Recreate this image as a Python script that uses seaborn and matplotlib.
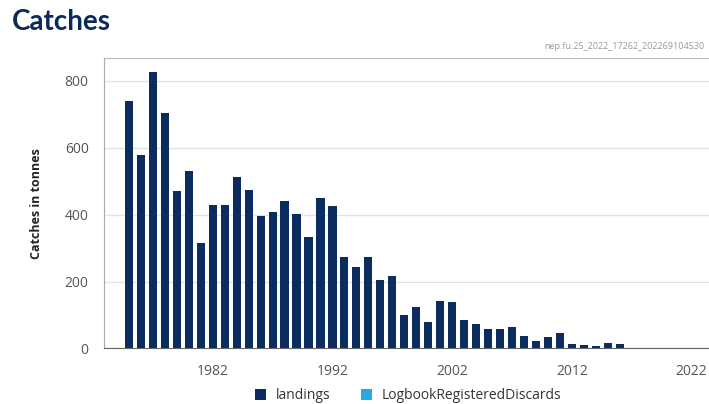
import numpy as np
import pandas as pd
import matplotlib
matplotlib.use("Agg")
import matplotlib.pyplot as plt
import seaborn as sns

# data (tonnes)
years = list(range(1975, 2022))
landings = [740, 577, 827, 704, 472, 529, 314, 429, 430, 512,
            474, 396, 409, 442, 401, 332, 450, 426, 273, 243,
            273, 206, 216, 100, 123, 78, 143, 140, 85, 73,
            58, 58, 64, 36, 23, 35, 45, 13, 10, 7,
            15, 12, 0, 0, 2, 2, 2]
discards = [0] * len(years)
series_names = ["landings", "LogbookRegisteredDiscards"]
series_colors = ["#0b2c5f", "#29a9e1"]
x_ticks = [1982, 1992, 2002, 2012, 2022]
y_ticks = [0, 200, 400, 600, 800]

df = pd.DataFrame({
    "Year": years * 2,
    "Catch": landings + discards,
    "Type": [series_names[0]] * len(years) + [series_names[1]] * len(years),
})

sns.set_style("white")
plt.rcParams["font.family"] = ["Open Sans", "DejaVu Sans"]

fig = plt.figure(figsize=(7.09, 4.04), dpi=100)
ax = fig.add_axes([0.1467, 0.1375, 0.8533, 0.7189])

sns.barplot(data=df, x="Year", y="Catch", hue="Type", dodge=False,
            native_scale=True, palette=series_colors, saturation=1,
            width=0.68, linewidth=0, ax=ax)

ax.set_xlim(1972.92, 2023.45)
ax.set_ylim(0, 868)
ax.set_xticks(x_ticks)
ax.set_yticks(y_ticks)
ax.set_xticklabels([str(t) for t in x_ticks])
ax.yaxis.grid(True, color="#e3e3e3", linewidth=1)
ax.set_axisbelow(True)

ax.tick_params(axis="y", length=7, width=1, color="#888888", labelsize=10,
               labelcolor="#555555", pad=4)
ax.tick_params(axis="x", length=5, width=1, color="#555555", labelsize=10,
               labelcolor="#555555", pad=6)

for side in ["top", "left", "bottom"]:
    ax.spines[side].set_visible(True)
ax.spines["top"].set_color("#bbbbbb")
ax.spines["left"].set_color("#aaaaaa")
ax.spines["right"].set_visible(False)
ax.spines["bottom"].set_color("#666666")

ax.set_xlabel("")
ax.set_ylabel("Catches in tonnes", fontsize=9, fontweight="bold",
              color="#222222", labelpad=16)

sns.move_legend(ax, "center", bbox_to_anchor=(0.576, 0.02),
                bbox_transform=fig.transFigure, ncol=2, frameon=False,
                title=None, fontsize=10, handlelength=0.8, handleheight=0.8,
                columnspacing=2.2, handletextpad=0.7)
for t in ax.get_legend().get_texts():
    t.set_color("#333333")

fig.text(0.017, 0.945, "Catches", fontsize=20, fontweight="bold",
         color="#0b2a5a", family=["Lato", "DejaVu Sans"], va="center")
fig.text(0.994, 0.884, "nep.fu.25_2022_17262_202269104530", fontsize=6.5,
         color="#999999", ha="right", va="center")

fig.savefig("out.png", dpi=100)
